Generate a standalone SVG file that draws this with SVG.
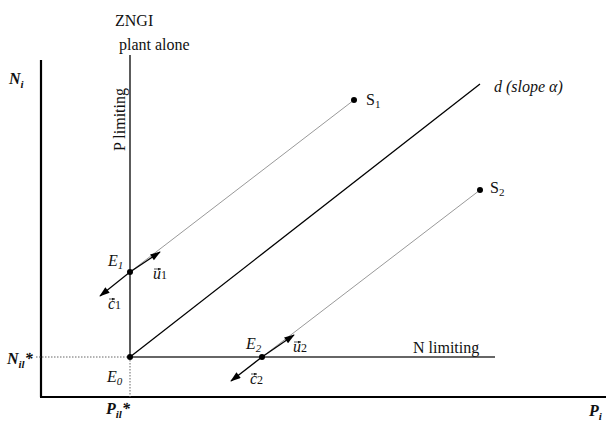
<svg xmlns="http://www.w3.org/2000/svg" width="606" height="426" viewBox="0 0 606 426">
<defs>
<style>
text{fill:#111;font-size:16px;font-family:"Liberation Serif","Times New Roman",serif}
.it{font-style:italic}
.b{font-weight:bold;font-style:italic}
.ax{stroke:#000;stroke-width:2.2;fill:none}
.zngi{stroke:#333;stroke-width:1.6;fill:none}
.d{stroke:#000;stroke-width:1.3;fill:none}
.s{stroke:#999;stroke-width:1;fill:none}
.dot{stroke:#666;stroke-width:1;stroke-dasharray:1.5 1.5;fill:none}
.vec{stroke:#000;stroke-width:1.3;fill:none;marker-end:url(#ah)}
.ov{stroke:#222;stroke-width:0.8;fill:none;marker-end:url(#sm)}
.sub{font-size:12px}
</style>
<marker id="ah" viewBox="0 0 12 8" refX="11" refY="4" markerWidth="12" markerHeight="7" markerUnits="userSpaceOnUse" orient="auto"><path d="M0,0 L12,4 L0,8 z" fill="#000"/></marker>
<marker id="sm" viewBox="0 0 4 4" refX="4" refY="2" markerWidth="3" markerHeight="3" markerUnits="userSpaceOnUse" orient="auto"><path d="M0,0 L4,2 L0,4 z" fill="#222"/></marker>
</defs>
<g id="axes">
<line class="ax" x1="41" y1="60" x2="41" y2="397"/>
<line class="ax" x1="40" y1="397" x2="606" y2="397"/>
<text class="b" x="9" y="84">N<tspan font-size="11" dy="4">i</tspan></text>
<text class="b" x="589" y="416">P<tspan font-size="11" dy="4">i</tspan></text>
<text class="b" x="7" y="364">N<tspan font-size="11" dy="4">il</tspan><tspan dy="-4">*</tspan></text>
<text class="b" x="106" y="414">P<tspan font-size="11" dy="4">il</tspan><tspan dy="-4">*</tspan></text>
</g>
<g id="guides">
<line class="dot" x1="36" y1="357" x2="130" y2="357"/>
<line class="dot" x1="130" y1="357" x2="130" y2="397"/>
</g>
<g id="zngi">
<line class="zngi" x1="130" y1="55" x2="130" y2="357"/>
<line class="zngi" x1="130" y1="357" x2="495" y2="357"/>
<text x="115" y="26">ZNGI</text>
<text x="119" y="50">plant alone</text>
<text x="0" y="0" transform="translate(125,151) rotate(-90)">P limiting</text>
<text x="413" y="353">N limiting</text>
</g>
<g id="connectors">
<line class="d" x1="130" y1="357" x2="480" y2="84"/>
<line class="s" x1="130" y1="272" x2="354" y2="100"/>
<line class="s" x1="262" y1="357" x2="480" y2="190"/>
<line class="vec" x1="130" y1="272" x2="160" y2="252"/>
<line class="vec" x1="130" y1="272" x2="100" y2="296"/>
<line class="vec" x1="262" y1="357" x2="294" y2="335"/>
<line class="vec" x1="262" y1="357" x2="231" y2="381"/>
</g>
<g id="E0">
<circle cx="130" cy="357" r="3" fill="#000"/>
<text class="it" x="107" y="382">E<tspan font-size="11" dy="3">0</tspan></text>
</g>
<g id="E1">
<circle cx="130" cy="272" r="3" fill="#000"/>
<text class="it" x="108" y="266">E<tspan font-size="11" dy="3">1</tspan></text>
<text class="it" x="153" y="279">u</text><text class="sub" x="161" y="279">1</text>
<line class="ov" x1="154" y1="269" x2="161" y2="269"/>
<text class="it" x="108" y="309">c</text><text class="sub" x="115" y="309">1</text>
<line class="ov" x1="109" y1="299" x2="115" y2="299"/>
</g>
<g id="E2">
<circle cx="262" cy="357" r="3" fill="#000"/>
<text class="it" x="246" y="349">E<tspan font-size="11" dy="3">2</tspan></text>
<text class="it" x="293" y="352">u</text><text class="sub" x="301" y="352">2</text>
<line class="ov" x1="294" y1="342" x2="301" y2="342"/>
<text class="it" x="250" y="384">c</text><text class="sub" x="257" y="384">2</text>
<line class="ov" x1="251" y1="374" x2="257" y2="374"/>
</g>
<g id="S1">
<circle cx="354" cy="100" r="3" fill="#000"/>
<text x="366" y="105">S<tspan font-size="11" dy="3">1</tspan></text>
</g>
<g id="S2">
<circle cx="480" cy="190" r="3" fill="#000"/>
<text x="490" y="193">S<tspan font-size="11" dy="3">2</tspan></text>
</g>
<g id="d-label">
<text class="it" x="494" y="92">d (slope α)</text>
</g>
</svg>
